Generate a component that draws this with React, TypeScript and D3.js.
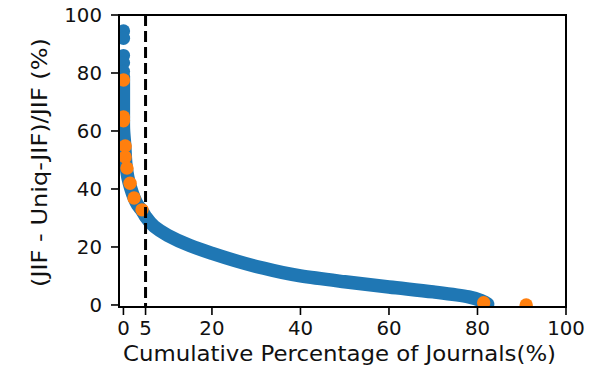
import React from "react";
import * as d3 from "d3";

// Blue series: journals with highest share at ~0% cumulative (discrete points)
const blueTopX = [0, 0, 0, 0, 0];
const blueTopY = [94.5, 92, 86, 83.5, 80.5];
// Blue series: dense cumulative curve
const blueCurveX = [0, 0, 0.3, 0.6, 1, 1.6, 2.4, 3.2, 4.2, 5, 7, 10, 15, 20, 30, 40, 50, 60, 70, 78, 81, 82.3];
const blueCurveY = [79, 62, 55, 48, 44, 40.5, 37, 34.5, 32.5, 30.5, 27, 24, 20.5, 17.8, 13.3, 10, 8, 6.2, 4.5, 2.8, 1.4, 0.3];
// Orange highlighted journals
const orangeX = [0, 0, 0, 0.4, 0.4, 0.8, 1.5, 2.4, 4.2, 81.4, 91];
const orangeY = [77.6, 64.8, 63.5, 54.8, 51, 47.2, 42, 36.9, 32.8, 0.8, 0];
// Axes
const xTicks = [0, 5, 20, 40, 60, 80, 100];
const yTicks = [0, 20, 40, 60, 80, 100];
const cutoff = 5;

const W = 614, H = 377;
const L = 119, R = 566, T = 15, B = 307;
const BLUE = "#1f77b4", ORANGE = "#ff7f0e";
const FONT = "DejaVu Sans, sans-serif";

export default function App() {
  const x = d3.scaleLinear().domain([-1, 100]).range([L, R]);
  const y = d3.scaleLinear().domain([-0.7, 100]).range([B, T]);
  const curvePts: [number, number][] = blueCurveX.map((v, i) => [v, blueCurveY[i]]);
  const line = d3.line<[number, number]>()
    .x(d => x(d[0]))
    .y(d => y(d[1]))
    .curve(d3.curveMonotoneY);
  const r = 6.7;
  return (
    <svg width={W} height={H} style={{ position: "absolute", left: 0, top: 0 }} fontFamily={FONT}>
      <defs>
        <clipPath id="plot"><rect x={L} y={T} width={R - L} height={B - T} /></clipPath>
      </defs>
      <rect width={W} height={H} fill="white" />
      <g clipPath="url(#plot)">
        <path d={line(curvePts) || ""} fill="none" stroke={BLUE} strokeWidth={2 * r} strokeLinecap="round" strokeLinejoin="round" />
        {blueTopY.map((v, i) => (
          <circle key={"b" + i} cx={x(blueTopX[i])} cy={y(v)} r={r} fill={BLUE} />
        ))}
        {orangeY.map((v, i) => (
          <circle key={"o" + i} cx={x(orangeX[i])} cy={y(v)} r={r} fill={ORANGE} />
        ))}
        <line x1={x(cutoff)} x2={x(cutoff)} y1={T} y2={B} stroke="black" strokeWidth={3} strokeDasharray="11,5" />
      </g>
      <rect x={L} y={T} width={R - L} height={B - T} fill="none" stroke="black" strokeWidth={2} />
      {xTicks.map(t => (
        <g key={"xt" + t}>
          <line x1={x(t)} x2={x(t)} y1={B} y2={B + 8} stroke="black" strokeWidth={1.6} />
          <text x={x(t)} y={335} fontSize={19} textAnchor="middle" fill="#111"
            transform={`translate(${x(t)},0) scale(1.04,1) translate(${-x(t)},0)`}>{t}</text>
        </g>
      ))}
      {yTicks.map(t => (
        <g key={"yt" + t}>
          <line x1={L - 8} x2={L} y1={y(t)} y2={y(t)} stroke="black" strokeWidth={1.6} />
          <text x={102} y={y(t) + 6.8} fontSize={19} textAnchor="end" fill="#111"
            transform={`translate(102,0) scale(1.04,1) translate(-102,0)`}>{t}</text>
        </g>
      ))}
      <text x={(L + R) / 2 - 3} y={361} fontSize={21} textAnchor="middle" textLength={433} lengthAdjust="spacingAndGlyphs" fill="#111">Cumulative Percentage of Journals(%)</text>
      <text transform={`translate(47,${162.5}) rotate(-90)`} fontSize={22} textAnchor="middle" textLength={249} lengthAdjust="spacingAndGlyphs" fill="#111">(JIF - Uniq-JIF)/JIF (%)</text>
    </svg>
  );
}
